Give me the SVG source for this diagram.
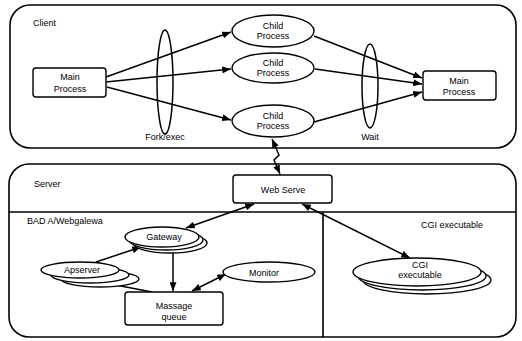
<svg xmlns="http://www.w3.org/2000/svg" width="522" height="341" viewBox="0 0 522 341">
<defs>
<marker id="ah" viewBox="0 0 10 8" refX="10" refY="4" markerWidth="9" markerHeight="7" markerUnits="userSpaceOnUse" orient="auto-start-reverse">
<path d="M0,0 L10,4 L0,8 z" fill="#000"/>
</marker>
<style>
text{font-family:"Liberation Sans",Arial,sans-serif;font-size:9px;fill:#000}
.c{text-anchor:middle}
.box{fill:none;stroke:#000;stroke-width:1.6}
.n{fill:#fff;stroke:#000;stroke-width:1.4}
.ln{fill:none;stroke:#000;stroke-width:1.5}
.a{marker-end:url(#ah)}
.aa{marker-start:url(#ah);marker-end:url(#ah)}
</style>
</defs>
<rect width="522" height="341" fill="#fff"/>
<g id="client">
<rect class="box" x="10" y="5" width="506" height="143" rx="20"/>
<text x="33" y="26">Client</text>
</g>
<g id="server">
<rect class="box" x="9" y="164" width="507" height="173" rx="20"/>
<line class="box" x1="9" y1="212" x2="516" y2="212"/>
<line class="box" x1="323" y1="212" x2="323" y2="337"/>
<text x="34" y="187">Server</text>
<text x="27" y="224">BAD A/Webgalewa</text>
<text x="421" y="228">CGI  executable</text>
</g>
<g id="fork">
<ellipse class="ln" cx="165" cy="82" rx="8" ry="52" stroke-width="1"/>
<text class="c" x="165" y="140">Fork/exec</text>
</g>
<g id="wait">
<ellipse class="ln" cx="370" cy="86" rx="8" ry="42" stroke-width="1"/>
<text class="c" x="370" y="140">Wait</text>
</g>
<g id="connectors">
<line class="ln a" x1="106" y1="77" x2="231" y2="32"/>
<line class="ln a" x1="106" y1="82" x2="231" y2="69"/>
<line class="ln a" x1="107" y1="87" x2="231" y2="120"/>
<line class="ln a" x1="314" y1="36" x2="422" y2="78"/>
<line class="ln a" x1="315" y1="69" x2="422" y2="84"/>
<line class="ln a" x1="314" y1="122" x2="422" y2="92"/>
<path class="ln aa" d="M280,174 L274,160 L279,155 L272,139"/>
<line class="ln aa" x1="254" y1="204" x2="186" y2="228"/>
<line class="ln a" x1="96" y1="262" x2="141" y2="247"/>
<line class="ln a" x1="173" y1="250" x2="173" y2="291"/>
<line class="ln aa" x1="226" y1="274" x2="192" y2="291"/>
<line class="ln" x1="100" y1="282" x2="152" y2="292"/>
<line class="ln aa" x1="302" y1="204" x2="410" y2="258"/>
</g>
<g id="main1">
<rect class="n" x="33" y="68" width="73" height="29" rx="3"/>
<text class="c" x="70" y="80">Main</text>
<text class="c" x="70" y="92">Process</text>
</g>
<g id="child1">
<ellipse class="n" cx="273" cy="31" rx="41" ry="16"/>
<text class="c" x="273" y="29">Child</text>
<text class="c" x="273" y="39">Process</text>
</g>
<g id="child2">
<ellipse class="n" cx="273" cy="68" rx="41" ry="15"/>
<text class="c" x="273" y="66">Child</text>
<text class="c" x="273" y="76">Process</text>
</g>
<g id="child3">
<ellipse class="n" cx="273" cy="121" rx="41" ry="16"/>
<text class="c" x="273" y="119">Child</text>
<text class="c" x="273" y="129">Process</text>
</g>
<g id="main2">
<rect class="n" x="423" y="71" width="73" height="29" rx="3"/>
<text class="c" x="459" y="84">Main</text>
<text class="c" x="459" y="95">Process</text>
</g>
<g id="webserve">
<rect class="n" x="233" y="175" width="99" height="28" rx="3"/>
<text class="c" x="283" y="193">Web  Serve</text>
</g>
<g id="gateway">
<ellipse class="n" cx="170" cy="243" rx="37" ry="10"/>
<ellipse class="n" cx="166" cy="240" rx="37" ry="10"/>
<ellipse class="n" cx="162" cy="237" rx="37" ry="10"/>
<text class="c" x="164" y="240">Gateway</text>
</g>
<g id="apserver">
<ellipse class="n" cx="100" cy="279" rx="39" ry="8"/>
<ellipse class="n" cx="90" cy="275" rx="39" ry="8"/>
<ellipse class="n" cx="80" cy="270" rx="39" ry="8"/>
<text class="c" x="82" y="273">Apserver</text>
</g>
<g id="monitor">
<ellipse class="n" cx="269" cy="272" rx="46" ry="10"/>
<text class="c" x="264" y="276">Monitor</text>
</g>
<g id="mqueue">
<rect class="n" x="125" y="292" width="98" height="33" rx="3"/>
<text class="c" x="174" y="309">Massage</text>
<text class="c" x="174" y="320">queue</text>
</g>
<g id="cgi">
<ellipse class="n" cx="427" cy="280" rx="64" ry="14"/>
<ellipse class="n" cx="422" cy="276" rx="64" ry="14"/>
<ellipse class="n" cx="417" cy="272" rx="64" ry="14"/>
<text class="c" x="420" y="268">CGI</text>
<text class="c" x="420" y="278">executable</text>
</g>
</svg>
